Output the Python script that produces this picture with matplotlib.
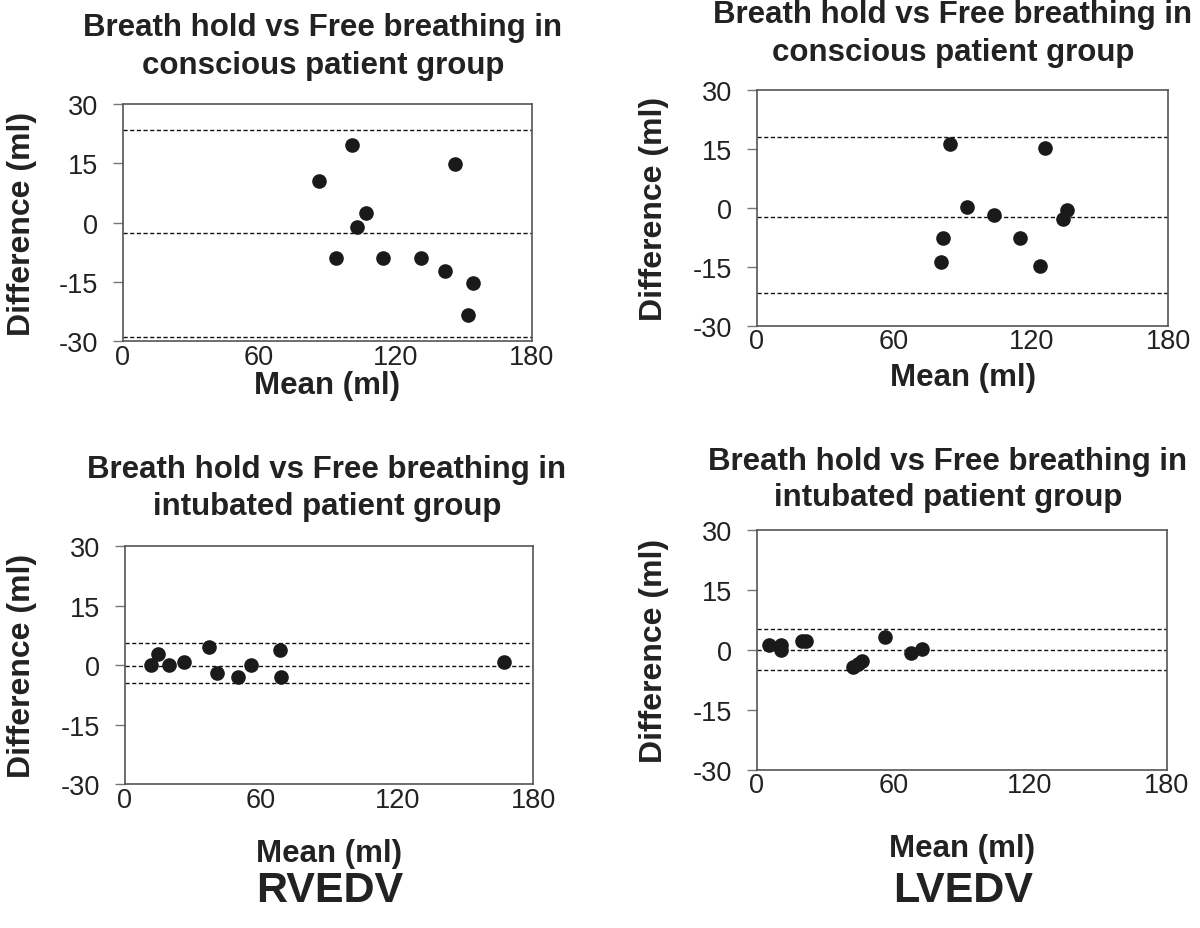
import matplotlib
matplotlib.use("Agg")
import matplotlib.pyplot as plt
from matplotlib import font_manager

# ---------------- data ----------------
x_ticks = [0, 60, 120, 180]
y_ticks = [-30, -15, 0, 15, 30]

title_line1 = "Breath hold vs Free breathing in"
title_conscious = "conscious patient group"
title_intubated = "intubated patient group"
x_label = "Mean (ml)"
y_label = "Difference (ml)"
group_labels = ["RVEDV", "LVEDV"]

# RVEDV conscious
rv_c_mean = [86.3, 100.9, 146.4, 106.9, 103.0, 93.7, 114.6, 131.3, 141.9, 154.0, 152.0]
rv_c_diff = [10.6, 19.7, 14.8, 2.5, -1.1, -9.1, -9.1, -9.1, -12.3, -15.3, -23.4]
rv_c_lines = [23.5, -2.7, -29.1]

# LVEDV conscious
lv_c_mean = [84.5, 125.9, 92.1, 103.9, 135.8, 133.8, 81.3, 115.1, 80.6, 123.7]
lv_c_diff = [16.3, 15.2, 0.3, -1.9, -0.6, -2.8, -7.7, -7.7, -13.7, -14.8]
lv_c_lines = [18.0, -2.3, -21.6]

# RVEDV intubated
rv_i_mean = [11.5, 14.5, 19.4, 26.0, 36.9, 40.4, 49.7, 55.6, 68.2, 68.6, 167.0]
rv_i_diff = [0.0, 2.8, 0.0, 0.8, 4.7, -1.9, -3.0, 0.0, 3.7, -3.0, 0.9]
rv_i_lines = [5.7, -0.25, -4.5]

# LVEDV intubated
lv_i_mean = [5.5, 10.7, 10.7, 19.8, 21.6, 42.4, 44.5, 46.4, 56.2, 67.6, 72.4]
lv_i_diff = [1.2, 1.3, 0.0, 2.2, 2.2, -4.4, -3.6, -2.8, 3.1, -0.85, 0.15]
lv_i_lines = [5.1, -0.1, -5.1]

# ---------------- style ----------------
avail = {f.name for f in font_manager.fontManager.ttflist}
base_font = "Liberation Sans" if "Liberation Sans" in avail else "DejaVu Sans"
has_narrow = "Liberation Sans Narrow" in avail
narrow_font = "Liberation Sans Narrow" if has_narrow else base_font
plt.rcParams["font.family"] = [base_font, "DejaVu Sans"]
plt.rcParams["axes.unicode_minus"] = False

W, H = 1200, 929
fig = plt.figure(figsize=(W / 100, H / 100), dpi=100)
fig.patch.set_facecolor("white")
txt_color = "#222222"

def px_box(left, top, right, bottom):
    return [left / W, 1 - bottom / H, (right - left) / W, (bottom - top) / H]

def fx(x):
    return x / W

def fy(y):
    return 1 - y / H

panels = [
    (px_box(122.7, 105, 531.7, 342), rv_c_mean, rv_c_diff, rv_c_lines, title_conscious,
     (28, 66), 323, 22, 386),
    (px_box(756.7, 91, 1168.3, 326.7), lv_c_mean, lv_c_diff, lv_c_lines, title_conscious,
     (15, 53), 953, 654, 378),
    (px_box(125, 547.3, 533.3, 785), rv_i_mean, rv_i_diff, rv_i_lines, title_intubated,
     (470, 507), 327, 22, 854),
    (px_box(756.7, 531, 1166.7, 770.7), lv_i_mean, lv_i_diff, lv_i_lines, title_intubated,
     (462, 498), 948, 654, 849),
]

for box, xm, yd, lines, t2, (ty1, ty2), tx, ylx, xly in panels:
    ax = fig.add_axes(box)
    ax.set_xlim(0, 180)
    ax.set_ylim(-30, 30)
    ax.set_xticks(x_ticks)
    ax.set_yticks(y_ticks)
    ax.tick_params(axis="y", direction="out", length=7, width=1.0, color="#777777",
                   labelsize=19.5, labelcolor=txt_color, pad=11)
    ax.tick_params(axis="x", length=0, labelsize=19.5, labelcolor=txt_color, pad=2)
    for s in ax.spines.values():
        s.set_color("#555555")
        s.set_linewidth(1.2)
    for v in lines:
        ax.axhline(v, color="#111111", lw=1.0, ls=(0, (3, 1.8)), zorder=2)
    ax.plot(xm, yd, ls="none", marker="o", ms=9.5, mfc="#1a1a1a", mec="#1a1a1a", zorder=3)

    cx = box[0] + box[2] / 2
    fig.text(fx(tx), fy(ty1), title_line1, ha="center", va="center",
             fontsize=22.5, fontweight="bold", color=txt_color)
    fig.text(fx(tx), fy(ty2), t2, ha="center", va="center",
             fontsize=22.5, fontweight="bold", color=txt_color)
    fig.text(fx(ylx), box[1] + box[3] / 2, y_label, ha="center", va="center",
             rotation=90, fontsize=23, fontweight="bold", color=txt_color)
    fig.text(cx, fy(xly), x_label, ha="center", va="center",
             fontsize=22.5, fontweight="bold", color=txt_color)

big_size = 36 if has_narrow else 31
fig.text(fx(330), fy(891), group_labels[0], ha="center", va="center",
         fontsize=big_size, fontweight="bold", color=txt_color, family=[narrow_font, base_font])
fig.text(fx(963), fy(891), group_labels[1], ha="center", va="center",
         fontsize=big_size, fontweight="bold", color=txt_color, family=[narrow_font, base_font])

fig.savefig("out.png", dpi=100, facecolor="white")
